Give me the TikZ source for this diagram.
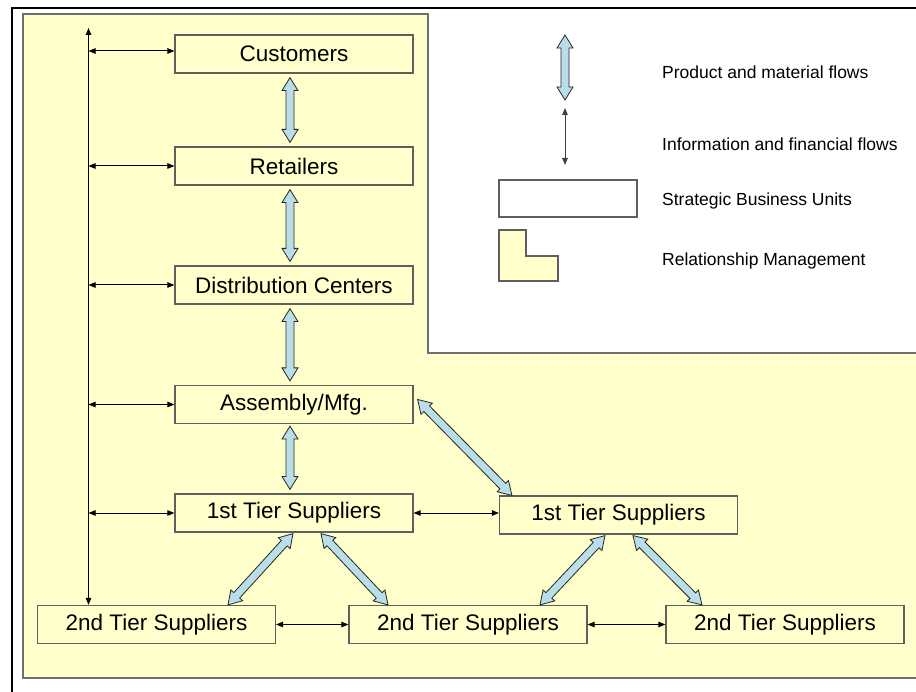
\documentclass[tikz,border=0pt]{standalone}
\usepackage{fontspec}
\setmainfont{Liberation Sans}
\usetikzlibrary{calc,arrows.meta}

\definecolor{rmfill}{HTML}{FFFFCC}
\definecolor{flowfill}{HTML}{B9DEE8}
\definecolor{boxline}{HTML}{5F5F5F}

\tikzset{
  sbu/.style={draw=boxline, line width=1.2pt, fill=rmfill,
    minimum width=238pt, minimum height=38pt, inner sep=0pt,
    font=\fontsize{22.5}{27}\selectfont},
  info/.style={draw=black, line width=1pt,
    {Triangle[length=7pt,width=5.5pt]}-{Triangle[length=7pt,width=5.5pt]}},
  flow/.style={draw=black!85, line width=0.8pt, fill=flowfill, line join=miter},
  legendtext/.style={anchor=west, inner sep=0pt,
    font=\fontsize{17.5}{21}\selectfont},
}

% double-headed block arrow between two named points
\newcommand\flowarrow[2]{%
  \path[flow] (#1)
    -- ($(#1)!13pt!(#2)!8pt!90:(#2)$)
    -- ($(#1)!13pt!(#2)!4pt!90:(#2)$)
    -- ($(#2)!13pt!(#1)!4pt!-90:(#1)$)
    -- ($(#2)!13pt!(#1)!8pt!-90:(#1)$)
    -- (#2)
    -- ($(#2)!13pt!(#1)!8pt!90:(#1)$)
    -- ($(#2)!13pt!(#1)!4pt!90:(#1)$)
    -- ($(#1)!13pt!(#2)!4pt!-90:(#2)$)
    -- ($(#1)!13pt!(#2)!8pt!-90:(#2)$)
    -- cycle;}

\begin{document}
\begin{tikzpicture}[x=1pt, y=-1pt]
  \clip (0,0) rectangle (916,692);
  \fill[white] (0,0) rectangle (916,692);

  % outer frame
  \draw[black, line width=2pt] (12,8) rectangle (940,720);

  % relationship management area
  \draw[draw=boxline!90, line width=1.2pt, fill=rmfill]
    (23,14) -- (428,14) -- (428,353) -- (940,353) -- (940,678) -- (23,678) -- cycle;

  % strategic business units
  \node[sbu] (cust) at (294,54)    {Customers};
  \node[sbu] (ret)  at (294,166)   {Retailers};
  \node[sbu] (dc)   at (294,285)   {Distribution Centers};
  \node[sbu] (asm)  at (294,404.5) {Assembly/Mfg.};
  \node[sbu] (t1)   at (294,513)   {1st Tier Suppliers};
  \node[sbu] (t2)   at (618.5,515) {1st Tier Suppliers};
  \node[sbu] (s1)   at (156.5,624.5) {2nd Tier Suppliers};
  \node[sbu] (s2)   at (468,624.5)   {2nd Tier Suppliers};
  \node[sbu] (s3)   at (785,624.5)   {2nd Tier Suppliers};

  % product and material flows
  \coordinate (a1) at ($(cust.south)+(-4,4)$);
  \coordinate (a2) at ($(ret.north)+(-4,-4)$);
  \coordinate (b1) at ($(ret.south)+(-4,4)$);
  \coordinate (b2) at ($(dc.north)+(-4,-4)$);
  \coordinate (c1) at ($(dc.south)+(-4,4)$);
  \coordinate (c2) at ($(asm.north)+(-4,-4)$);
  \coordinate (d1) at ($(asm.south)+(-4,2)$);
  \coordinate (d2) at ($(t1.north)+(-4,-4)$);
  \coordinate (e1) at ($(asm.east)+(4,-5)$);
  \coordinate (e2) at ($(t2.north west)+(13,0)$);
  \coordinate (f1) at ($(t1.south)+(-1,1)$);
  \coordinate (f2) at ($(s1.north)+(71.5,0)$);
  \coordinate (g1) at ($(t1.south)+(27,1)$);
  \coordinate (g2) at ($(s2.north)+(-80,0)$);
  \coordinate (h1) at ($(t2.south)+(-13.5,1)$);
  \coordinate (h2) at ($(s2.north)+(72,0)$);
  \coordinate (k1) at ($(t2.south)+(14.5,1)$);
  \coordinate (k2) at ($(s3.north)+(-83,0)$);
  \flowarrow{a1}{a2}
  \flowarrow{b1}{b2}
  \flowarrow{c1}{c2}
  \flowarrow{d1}{d2}
  \flowarrow{e1}{e2}
  \flowarrow{f1}{f2}
  \flowarrow{g1}{g2}
  \flowarrow{h1}{h2}
  \flowarrow{k1}{k2}

  % information and financial flows
  \coordinate (bustop) at (88.5,28);
  \draw[info] (bustop) -- (bustop |- s1.north);
  \draw[info] ($(bustop |- cust.west)+(0,-3)$) -- ($(cust.west)+(0,-3)$);
  \foreach \n in {ret,dc,asm,t1}
    \draw[info] (bustop |- \n.west) -- (\n.west);
  \draw[info] (t1.east) -- (t1.east -| t2.west);
  \draw[info] (s1.east) -- (s2.west);
  \draw[info] (s2.east) -- (s3.west);

  % legend
  \coordinate (lf1) at (565,35);
  \coordinate (lf2) at (565,100);
  \flowarrow{lf1}{lf2}
  \coordinate (li1) at (565,108);
  \coordinate (li2) at (565,165);
  \draw[info, draw=black!75] (li1) -- (li2);
  \draw[draw=boxline, line width=1.2pt, fill=white] (499,180) rectangle (637,217);
  \draw[draw=boxline, line width=1.2pt, fill=rmfill]
    (499,230) -- (526,230) -- (526,256) -- (558,256) -- (558,281) -- (499,281) -- cycle;

  \node[legendtext] (lt1) at (662,72)  {Product and material flows};
  \node[legendtext] (lt2) at (662,144) {Information and financial flows};
  \node[legendtext] (lt3) at (662,201) {Strategic Business Units};
  \node[legendtext] (lt4) at (662,261) {Relationship Management};
\end{tikzpicture}
\end{document}
